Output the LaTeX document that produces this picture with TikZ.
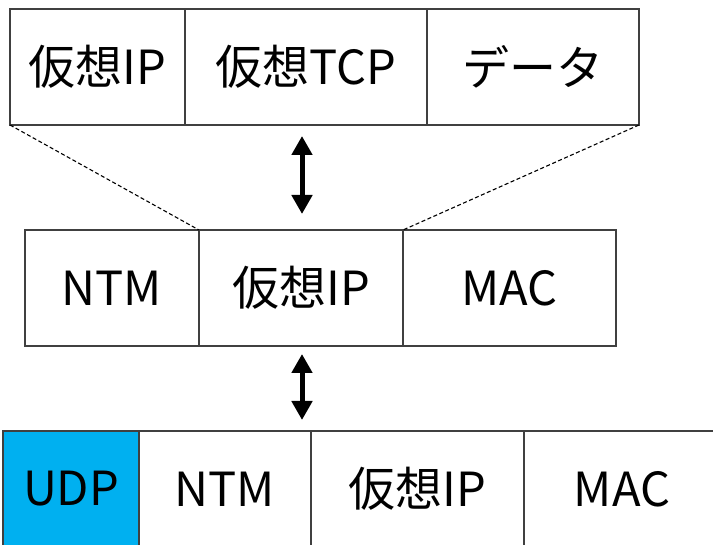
\documentclass[tikz,border=0pt]{standalone}
\usepackage{fontspec}
\setmainfont{Noto Sans CJK JP}
\usetikzlibrary{arrows.meta}
\definecolor{boxline}{HTML}{404040}
\definecolor{udpblue}{HTML}{00B0F0}
\tikzset{
  cell/.style={draw=boxline, line width=1.3pt, rectangle, inner sep=0pt, outer sep=0pt,
    minimum height=116pt, font=\fontsize{47}{50}\selectfont, text=black},
  guide/.style={draw=black, line width=1.1pt, dash pattern=on 4pt off 2.5pt},
  bigarrow/.style={draw=black, line width=5pt, {Triangle[width=20pt,length=19pt]}-{Triangle[width=20pt,length=19pt]}}
}
\begin{document}
\begin{tikzpicture}[x=1pt,y=-1pt]
\useasboundingbox (0,0) rectangle (713,545);
\clip (0,0) rectangle (713,545);
% top row
\node[cell, minimum width=175pt] (t1) at (97.5,67) {仮想IP};
\node[cell, minimum width=242pt] (t2) at (306,67) {仮想TCP};
\node[cell, minimum width=212pt] (t3) at (533,67) {データ};
% middle row
\node[cell, minimum width=174pt] (m1) at (112,288) {NTM};
\node[cell, minimum width=204pt] (m2) at (301,288) {仮想IP};
\node[cell, minimum width=213pt] (m3) at (509.5,288) {MAC};
% bottom row
\node[cell, minimum width=136pt, fill=udpblue] (b1) at (71,489) {UDP};
\node[cell, minimum width=172pt] (b2) at (225,489) {NTM};
\node[cell, minimum width=213pt] (b3) at (417.5,489) {仮想IP};
\node[cell, minimum width=196pt] (b4) at (622,489) {MAC};
% guides
\draw[guide] (t1.south west) -- (m2.north west);
\draw[guide] (t3.south east) -- (m3.north west);
% arrows
\coordinate (a1s) at (302,136);
\coordinate (a1e) at (302,214);
\coordinate (a2s) at (302,354);
\coordinate (a2e) at (302,420);
\draw[bigarrow] (a1s) -- (a1e);
\draw[bigarrow] (a2s) -- (a2e);
\end{tikzpicture}
\end{document}
